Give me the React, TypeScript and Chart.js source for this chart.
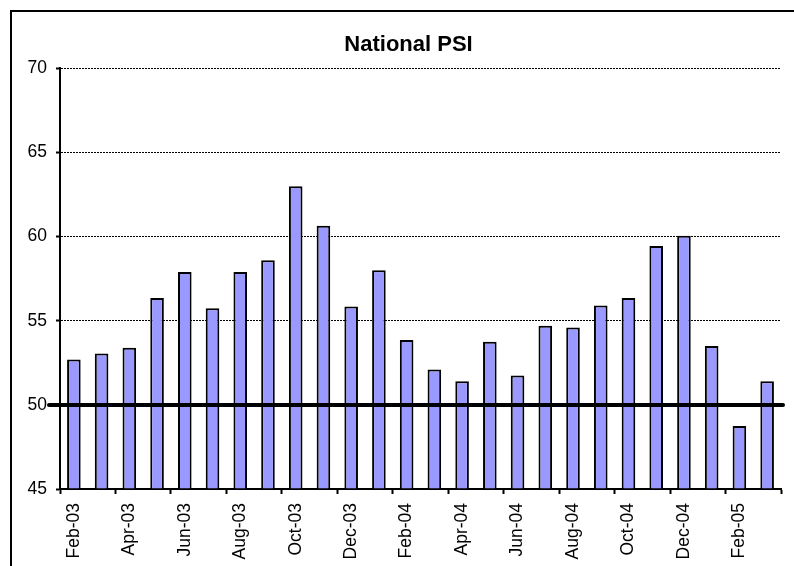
import React, { useEffect, useRef } from "react";
import { Chart, registerables } from "chart.js";

Chart.register(...registerables);

const TITLE = "National PSI";
const MONTHS = [
  "Feb-03", "Mar-03", "Apr-03", "May-03", "Jun-03", "Jul-03", "Aug-03", "Sep-03",
  "Oct-03", "Nov-03", "Dec-03", "Jan-04", "Feb-04", "Mar-04", "Apr-04", "May-04",
  "Jun-04", "Jul-04", "Aug-04", "Sep-04", "Oct-04", "Nov-04", "Dec-04", "Jan-05",
  "Feb-05", "Mar-05",
];
const PSI = [
  52.7, 53.05, 53.4, 56.35, 57.9, 55.75, 57.9, 58.6, 63.0, 60.65, 55.85, 58.0,
  53.85, 52.1, 51.4, 53.75, 51.75, 54.7, 54.6, 55.9, 56.35, 59.45, 60.05, 53.5,
  48.75, 51.4,
];
const Y_MIN = 45;
const Y_MAX = 70;
const Y_STEP = 5;
const THRESHOLD = 50;

const FONT = "'Liberation Sans', Arial, sans-serif";

const framePlugin = {
  id: "frame",
  afterLayout(chart: any) {
    // shift the title's box so it is centred as in the original sheet
    if (chart.titleBlock) {
      chart.titleBlock.left = 36;
      chart.titleBlock.right = 781;
    }
  },
  beforeDraw(chart: any) {
    const ctx = chart.ctx;
    ctx.save();
    ctx.fillStyle = "#ffffff";
    ctx.fillRect(0, 0, chart.width, chart.height);
    ctx.strokeStyle = "#000000";
    ctx.lineWidth = 2;
    ctx.beginPath();
    ctx.moveTo(11, chart.height + 5);
    ctx.lineTo(11, 11);
    ctx.lineTo(chart.width + 5, 11);
    ctx.stroke();
    ctx.restore();
  },
};

const thresholdPlugin = {
  id: "threshold",
  afterDatasetsDraw(chart: any) {
    const ctx = chart.ctx;
    const area = chart.chartArea;
    const y = chart.scales.y.getPixelForValue(THRESHOLD);
    ctx.save();
    ctx.strokeStyle = "#000000";
    ctx.lineWidth = 4;
    ctx.lineCap = "round";
    ctx.beginPath();
    ctx.moveTo(area.left - 11, y);
    ctx.lineTo(area.right + 2, y);
    ctx.stroke();
    ctx.restore();
  },
};

export default function App() {
  const ref = useRef<HTMLCanvasElement | null>(null);

  useEffect(() => {
    if (!ref.current) return;
    const chart = new Chart(ref.current, {
      type: "bar",
      data: {
        labels: MONTHS,
        datasets: [
          {
            label: TITLE,
            data: PSI,
            base: Y_MIN,
            backgroundColor: "#9999FF",
            borderColor: "#000000",
            borderWidth: 2,
            barPercentage: 0.49,
            categoryPercentage: 1,
          },
        ],
      },
      options: {
        animation: false,
        responsive: false,
        devicePixelRatio: 1,
        layout: { padding: { left: 27, right: 13, top: 0, bottom: 0 } },
        plugins: {
          legend: { display: false },
          tooltip: { enabled: false },
          title: {
            display: true,
            text: TITLE,
            color: "#000000",
            font: { family: FONT, size: 22, weight: "bold" },
            padding: { top: 32, bottom: 10 },
          },
        },
        scales: {
          x: {
            offset: true,
            afterFit: (s: any) => {
              s.height = 77;
              s.paddingLeft = 0;
              s.paddingRight = 0;
            },
            grid: {
              offset: true,
              drawOnChartArea: false,
              drawTicks: true,
              tickLength: 5,
              tickWidth: 2,
              tickColor: (ctx: any) =>
                ctx.index === undefined || ctx.index % 2 === 0 ? "#000000" : "rgba(0,0,0,0)",
              color: "rgba(0,0,0,0)",
            },
            border: { display: true, color: "#000000", width: 2 },
            ticks: {
              autoSkip: false,
              maxRotation: 90,
              minRotation: 90,
              padding: 9,
              color: "#000000",
              font: { family: FONT, size: 17.5 },
              callback: (_v: any, i: number) => (i % 2 === 0 ? MONTHS[i] : ""),
            },
          },
          y: {
            min: Y_MIN,
            max: Y_MAX,
            afterFit: (s: any) => {
              s.width = 33;
            },
            grid: {
              color: (ctx: any) =>
                ctx.tick && (ctx.tick.value === Y_MIN || ctx.tick.value === THRESHOLD)
                  ? "rgba(0,0,0,0)"
                  : "#000000",
              lineWidth: 1,
              drawTicks: true,
              tickLength: 4,
              tickWidth: 2,
              tickColor: "#000000",
              tickBorderDash: [],
            },
            border: { display: true, color: "#000000", width: 2, dash: [2, 1] },
            ticks: {
              stepSize: Y_STEP,
              padding: 9,
              color: "#000000",
              font: { family: FONT, size: 17.5 },
            },
          },
        },
      },
      plugins: [framePlugin, thresholdPlugin],
    } as any);
    return () => chart.destroy();
  }, []);

  return (
    <div style={{ position: "absolute", left: 0, top: 0, width: 794, height: 566 }}>
      <canvas ref={ref} width={794} height={566} style={{ width: 794, height: 566, display: "block" }} />
    </div>
  );
}
